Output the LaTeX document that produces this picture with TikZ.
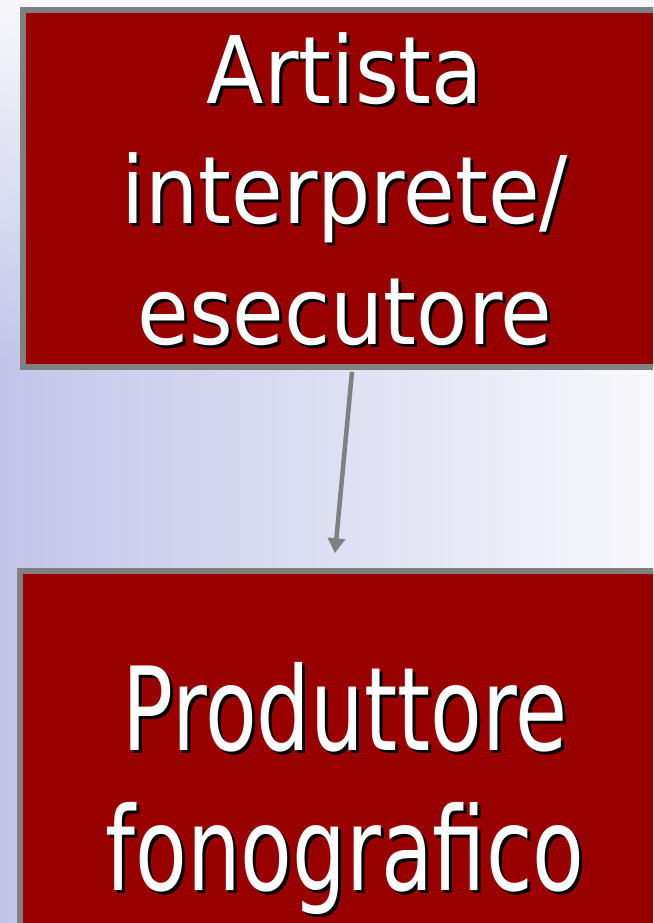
\documentclass[tikz,border=0pt]{standalone}
\usepackage{fontspec}
\setmainfont{DejaVu Sans}
\newfontfamily\boxfont[FakeStretch=0.9]{DejaVu Sans}
\newfontfamily\boxfontnarrow[FakeStretch=0.73]{DejaVu Sans}
\usetikzlibrary{arrows.meta,fadings}
\definecolor{boxred}{HTML}{990000}
\definecolor{boxgray}{HTML}{808080}
\definecolor{bgblue}{HTML}{C2C5E8}
\definecolor{bglight}{HTML}{F8F8FC}
\tikzset{
  rbox/.style={draw=boxgray, line width=5.5pt, fill=boxred, inner sep=0pt},
  wtext/.style={text=white, align=center, inner sep=0pt, anchor=base},
  stext/.style={text=black, align=center, inner sep=0pt, anchor=base},
  link/.style={draw=boxgray, line width=4.5pt, -{Triangle[width=17pt,length=15pt]}}
}
\begin{document}
\begin{tikzpicture}[x=1pt,y=-1pt]
        \clip (0,0) rectangle (653,923);
        % sfondo
        \shade[left color=bgblue, right color=bglight] (0,0) rectangle (653,923);
        \fill[bglight, path fading=south] (0,0) rectangle (653,360);
        % riquadri
        \node[rbox, minimum width=644pt, minimum height=357pt] (artista) at (345,188.5) {};
        \node[rbox, minimum width=650pt, minimum height=370pt] (produttore) at (345,756) {};
        % testi con ombra
        \node[stext, font=\boxfont\fontsize{93.3}{120.5}\selectfont] (artistaombra) at (348,347) {Artista\\interprete/\\esecutore};
        \node[wtext, font=\boxfont\fontsize{93.3}{120.5}\selectfont] (artistatesto) at (345,344) {Artista\\interprete/\\esecutore};
        \node[stext, font=\boxfontnarrow\fontsize{116}{140}\selectfont] (produttoreombra) at (348,893) {Produttore\\fonografico};
        \node[wtext, font=\boxfontnarrow\fontsize{116}{140}\selectfont] (produttoretesto) at (345,890) {Produttore\\fonografico};
        % freccia
        \draw[link] ([xshift=7pt,yshift=-2pt]artista.south) -- ([xshift=-10pt,yshift=15pt]produttore.north);
\end{tikzpicture}
\end{document}
